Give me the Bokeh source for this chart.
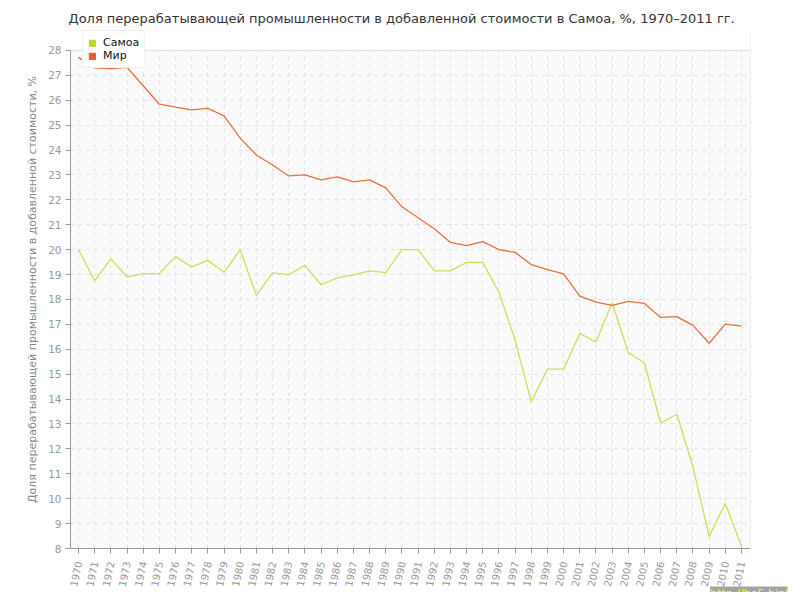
import math
from bokeh.plotting import figure
from bokeh.models import (Range1d, FixedTicker, Legend, LegendItem, ColumnDataSource,
                          BoxAnnotation, Span, Title)
from bokeh.embed import file_html
from bokeh.resources import INLINE

years = list(range(1970, 2012))
samoa = [20.0, 18.75, 19.63, 18.91, 19.04, 19.04, 19.72, 19.31, 19.57, 19.09,
         20.0, 18.16, 19.07, 18.99, 19.37, 18.59, 18.87, 18.99, 19.15, 19.08,
         20.0, 20.0, 19.15, 19.15, 19.49, 19.49, 18.29, 16.37, 13.89, 15.2,
         15.2, 16.64, 16.29, 17.87, 15.87, 15.44, 13.04, 13.39, 11.27, 8.48,
         9.81, 8.09]
world = [27.72, 27.3, 27.27, 27.32, 26.58, 25.84, 25.72, 25.61, 25.67, 25.37,
         24.48, 23.8, 23.4, 22.96, 23.0, 22.8, 22.92, 22.72, 22.8, 22.48,
         21.72, 21.28, 20.84, 20.29, 20.16, 20.32, 20.0, 19.89, 19.4, 19.2,
         19.03, 18.13, 17.89, 17.76, 17.92, 17.84, 17.28, 17.31, 16.96, 16.24,
         17.01, 16.93]
y_ticks = list(range(8, 29))
y_min, y_max = 8, 28
title_text = "Доля перерабатывающей промышленности в добавленной стоимости в Самоа, %, 1970–2011 гг."
y_label = "Доля перерабатывающей промышленности в добавленной стоимости, %"
names = ["Самоа", "Мир"]
colors = ["#c8e05a", "#e8703f"]
legend_colors = ["#b8d82c", "#e0602c"]
watermark = "http://be5.biz/"

FONT = "DejaVu Sans"

x_range = Range1d(1969.505, 2011.556)
# extra headroom above 28 so the legend can sit above the plotted box
p = figure(width=792, height=592, output_backend="svg", toolbar_location=None,
           x_range=x_range, y_range=Range1d(y_min, y_max + 0.8),
           min_border_left=70, min_border_right=42, min_border_top=30, min_border_bottom=42)
p.background_fill_color = "#fafafa"
p.border_fill_color = "white"
p.outline_line_color = None

p.title.text = title_text
p.title.text_font = FONT
p.title.text_font_size = "13px"
p.title.text_font_style = "normal"
p.title.text_color = "#333333"
p.title.align = "left"
p.title.offset = -2
p.title.standoff = 10

for ax in (p.xaxis[0], p.yaxis[0]):
    ax.axis_line_color = "#999999"
    ax.major_tick_line_color = "#999999"
    ax.minor_tick_line_color = None
    ax.major_tick_out = 5
    ax.major_tick_in = 0
    ax.major_label_text_color = "#999999"
    ax.major_label_text_font = FONT

p.xaxis.ticker = FixedTicker(ticks=years)
p.xaxis.major_label_orientation = 1.36
p.xaxis.major_label_text_font_size = "10px"
p.xaxis.major_label_standoff = 8

p.yaxis.ticker = FixedTicker(ticks=y_ticks)
p.yaxis.bounds = (y_min, y_max)
p.yaxis.major_label_text_font_size = "10.5px"
p.yaxis.major_label_standoff = 4
p.yaxis.axis_label = y_label
p.yaxis.axis_label_text_font = FONT
p.yaxis.axis_label_text_font_size = "11px"
p.yaxis.axis_label_text_font_style = "normal"
p.yaxis.axis_label_text_color = "#888888"
p.yaxis.axis_label_standoff = 6

for g in (p.xgrid[0], p.ygrid[0]):
    g.grid_line_color = "#e2e2e2"
    g.grid_line_dash = "4 4"
    g.grid_line_width = 1
p.xgrid.ticker = FixedTicker(ticks=years)
p.ygrid.ticker = FixedTicker(ticks=y_ticks)

src = ColumnDataSource(dict(x=years, samoa=samoa, world=world))
p.line("x", "samoa", source=src, line_color=colors[0], line_width=1.3)
p.line("x", "world", source=src, line_color=colors[1], line_width=1.3)

# frame borders and white headroom strip
p.add_layout(Span(location=x_range.end, dimension="height", line_color="#dddddd", line_width=1))
p.add_layout(BoxAnnotation(bottom=y_max, fill_color="white", fill_alpha=1, line_color=None))
p.add_layout(Span(location=y_max, dimension="width", line_color="#dddddd", line_width=1))

proxies = []
for c, col in zip(legend_colors, ["samoa", "world"]):
    r = p.rect(x="x", y=col, width=0, height=0, source=src,
               fill_color=c, line_color=c, visible=False)
    proxies.append(r)

legend = Legend(items=[LegendItem(label=n, renderers=[r]) for n, r in zip(names, proxies)],
                location=(12, 480), orientation="vertical")
legend.background_fill_color = "white"
legend.background_fill_alpha = 1
legend.border_line_color = "#e4e4e4"
legend.inactive_fill_alpha = 0
legend.label_text_font = FONT
legend.label_text_font_size = "11px"
legend.label_text_color = "#111111"
legend.glyph_width = 8
legend.glyph_height = 8
legend.label_height = 12
legend.label_standoff = 7
legend.spacing = 0
legend.padding = 5
legend.margin = 0
legend.label_text_baseline = "middle"
p.add_layout(legend, "center")

wm = Title(text=watermark, align="right", offset=-37, standoff=-14,
           text_font=FONT, text_font_size="11px", text_font_style="normal",
           text_color="#ffff00", background_fill_color="#999999", background_fill_alpha=0.9)
p.add_layout(wm, "below")

open("out.html", "w").write(file_html(p, INLINE))
